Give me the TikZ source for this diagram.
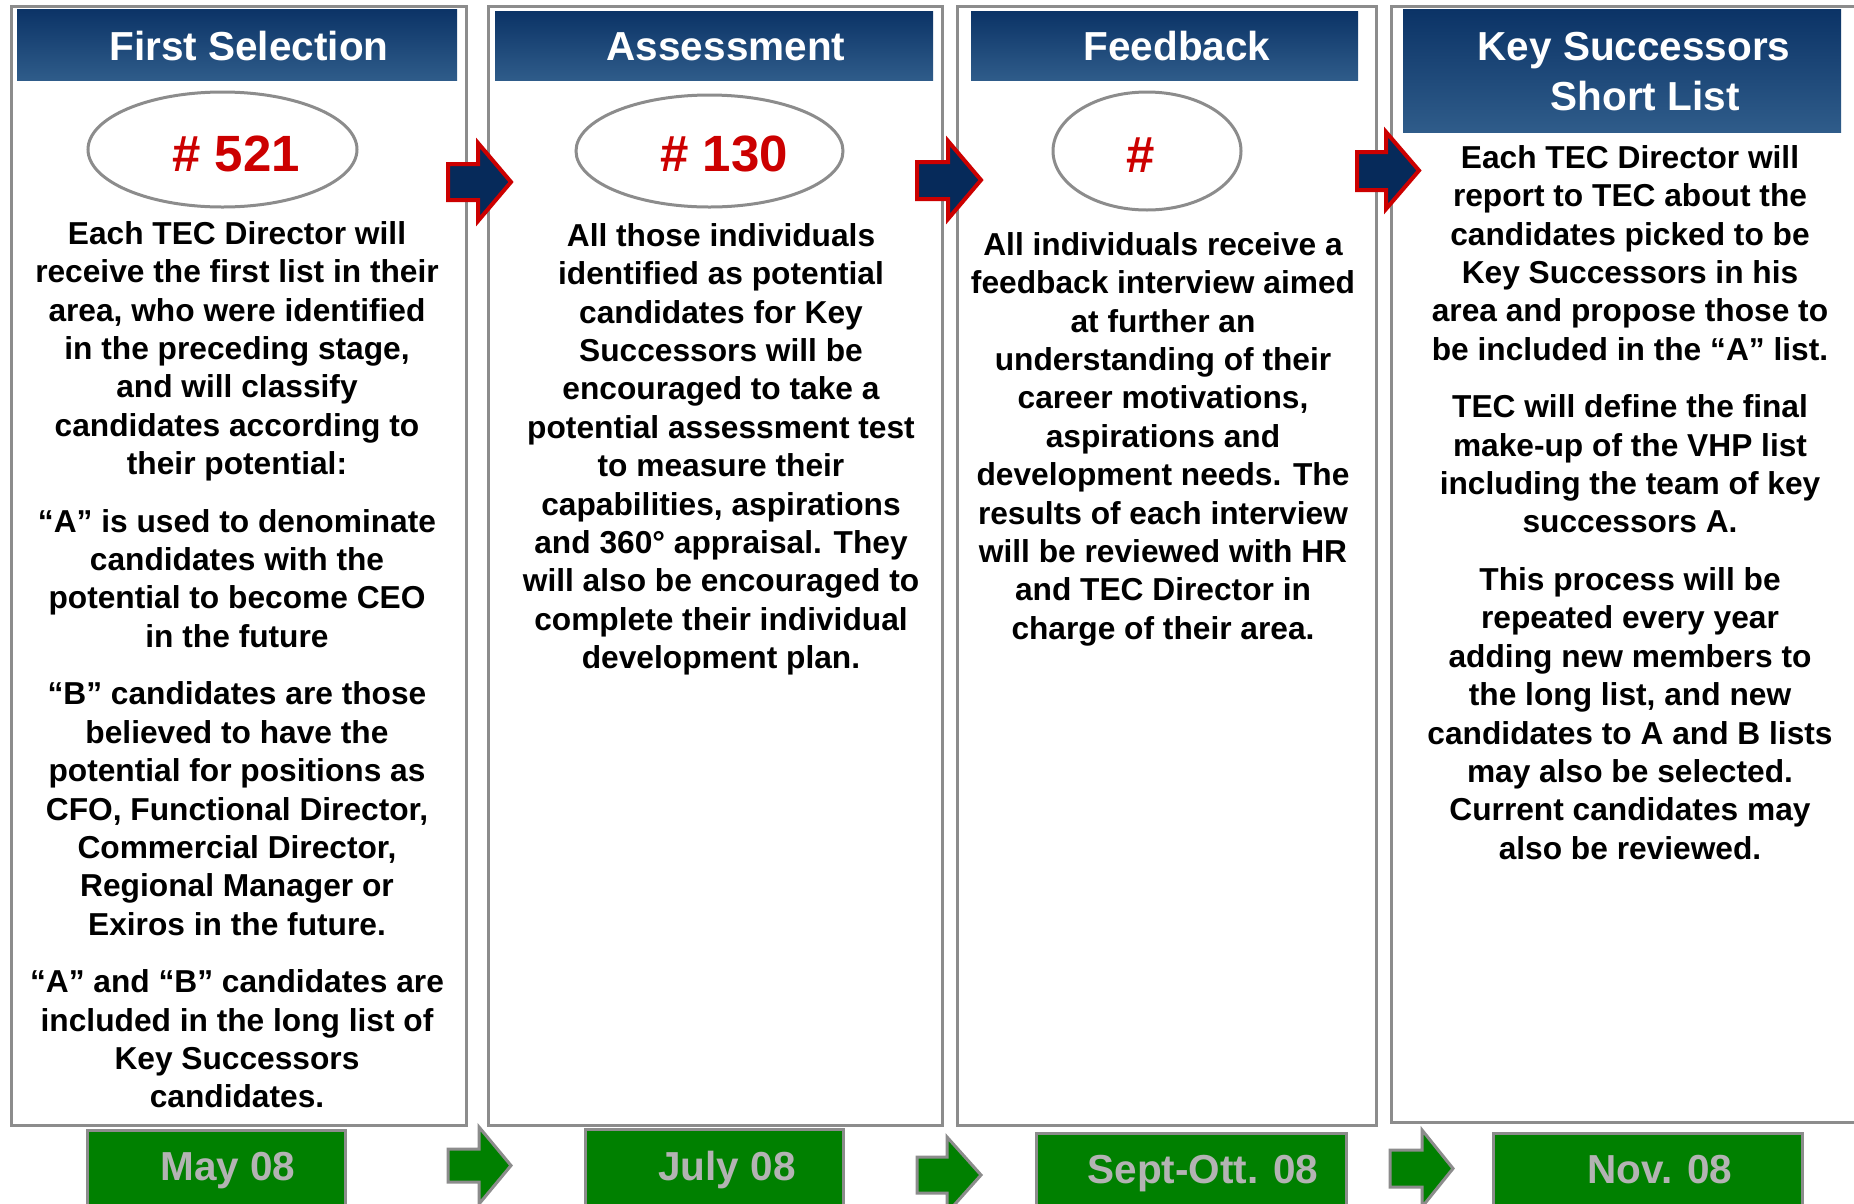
\documentclass[tikz,border=0pt]{standalone}
\usepackage{fontspec}
\setmainfont{Liberation Sans}
\usetikzlibrary{shapes.geometric}
\definecolor{navyTop}{HTML}{0B3366}
\definecolor{navyBot}{HTML}{2F5C8A}
\definecolor{arrowNavy}{HTML}{062A5A}
\definecolor{redC}{HTML}{CC0000}
\definecolor{frameGrey}{HTML}{8C8C8C}
\definecolor{greenC}{HTML}{008000}
\definecolor{dateGrey}{HTML}{B3B3B3}
\begin{document}
\begin{tikzpicture}[x=1pt,y=-1pt,
 frame/.style={draw=frameGrey,line width=3pt,fill=white,rectangle,inner sep=0pt},
 header/.style={top color=navyTop,bottom color=navyBot,draw=none,rectangle,inner sep=0pt},
 htext/.style={text=white,font=\fontsize{40.5}{50}\selectfont\bfseries,align=center,inner sep=0pt,anchor=base},
 ell/.style={ellipse,draw=frameGrey,line width=3pt,fill=white,inner sep=0pt},
 num/.style={text=redC,font=\fontsize{51}{60}\selectfont\bfseries,inner sep=0pt,anchor=base},
 body/.style={font=\fontsize{31.7}{38.4}\selectfont\bfseries,align=center,inner sep=0pt,anchor=north},
 navyarrow/.style={fill=arrowNavy,draw=redC,line width=4pt,line join=miter},
 greenarrow/.style={fill=greenC,draw=frameGrey,line width=3pt,line join=miter},
 datebox/.style={fill=greenC,draw=frameGrey,line width=3pt,rectangle,inner sep=0pt},
 dtext/.style={text=dateGrey,font=\fontsize{40.5}{48}\selectfont\bfseries,inner sep=0pt,anchor=base}
]
\useasboundingbox (0,0) rectangle (1854,1203);
\fill[white] (0,0) rectangle (1854,1203);

% frames
\node[frame,minimum width=455pt,minimum height=1119pt] (f1) at (238.5,565.5) {};
\node[frame,minimum width=454pt,minimum height=1119pt] (f2) at (715,565.5) {};
\node[frame,minimum width=419pt,minimum height=1119pt] (f3) at (1166.5,565.5) {};
\node[frame,minimum width=479pt,minimum height=1116pt] (f4) at (1630.5,564) {};

% headers
\node[header,minimum width=440pt,minimum height=71pt] (h1) at (237,44.5) {};
\node[header,minimum width=438pt,minimum height=69pt] (h2) at (714,45.5) {};
\node[header,minimum width=387pt,minimum height=69pt] (h3) at (1164.5,45.5) {};
\node[header,minimum width=438pt,minimum height=123pt] (h4) at (1622,70.5) {};
\node[htext] (ht1) at (249,60) {First Selection};
\node[htext] (ht2) at (726,60) {Assessment};
\node[htext] (ht3) at (1177,60) {Feedback};
\node[htext] (ht4) at (1634,110) {Key Successors\\\hspace*{22pt}Short List};

% ellipses
\node[ell,minimum width=269pt,minimum height=115pt] (e1) at (222.5,149.5) {};
\node[ell,minimum width=267pt,minimum height=112pt] (e2) at (709.5,151) {};
\node[ell,minimum width=188pt,minimum height=118pt] (e3) at (1147,151) {};
\node[num] (n1) at (236,171) {\# 521};
\node[num] (n2) at (724,171) {\# 130};
\node[num] (n3) at (1141,172) {\#};

% body texts
\node[body] (b1) at (237,219) {\rule{0pt}{25pt}Each TEC Director will\\
receive the first list in their\\
area, who were identified\\
in the preceding stage,\\
and will classify\\
candidates according to\\
their potential:\\[19.1pt]
“A” is used to denominate\\
candidates with the\\
potential to become CEO\\
in the future\\[19.1pt]
“B” candidates are those\\
believed to have the\\
potential for positions as\\
CFO, Functional Director,\\
Commercial Director,\\
Regional Manager or\\
Exiros in the future.\\[19.1pt]
“A” and “B” candidates are\\
included in the long list of\\
Key Successors\\
candidates.};

\node[body] (b2) at (721,221) {\rule{0pt}{25pt}All those individuals\\
identified as potential\\
candidates for Key\\
Successors will be\\
encouraged to take a\\
potential assessment test\\
to measure their\\
capabilities, aspirations\\
and 360° appraisal. They\\
will also be encouraged to\\
complete their individual\\
development plan.};

\node[body] (b3) at (1163,230) {\rule{0pt}{25pt}All individuals receive a\\
feedback interview aimed\\
at further an\\
understanding of their\\
career motivations,\\
aspirations and\\
development needs. The\\
results of each interview\\
will be reviewed with HR\\
and TEC Director in\\
charge of their area.};

\node[body] (b4) at (1630,143) {\rule{0pt}{25pt}Each TEC Director will\\
report to TEC about the\\
candidates picked to be\\
Key Successors in his\\
area and propose those to\\
be included in the “A” list.\\[19.1pt]
TEC will define the final\\
make-up of the VHP list\\
including the team of key\\
successors A.\\[19.1pt]
This process will be\\
repeated every year\\
adding new members to\\
the long list, and new\\
candidates to A and B lists\\
may also be selected.\\
Current candidates may\\
also be reviewed.};

% navy arrows
\draw[navyarrow] (448,164) -- (478,164) -- (478,143) -- (511,182) -- (478,221) -- (478,200) -- (448,200) -- cycle;
\draw[navyarrow] (917,162) -- (948,162) -- (948,141) -- (981,180) -- (948,219) -- (948,199) -- (917,199) -- cycle;
\draw[navyarrow] (1357,152) -- (1386,152) -- (1386,132) -- (1419,170.5) -- (1386,209) -- (1386,190) -- (1357,190) -- cycle;

% date boxes
\node[datebox,minimum width=258pt,minimum height=80pt] (d1) at (216,1170) {};
\node[datebox,minimum width=258pt,minimum height=81pt] (d2) at (714,1169.5) {};
\node[datebox,minimum width=310pt,minimum height=77pt] (d3) at (1191,1171.5) {};
\node[datebox,minimum width=309pt,minimum height=77pt] (d4) at (1647.5,1171.5) {};
\node[dtext] (dt1) at (228,1180) {May 08};
\node[dtext] (dt2) at (727,1180) {July 08};
\node[dtext] (dt3) at (1203,1183) {Sept-Ott. 08};
\node[dtext] (dt4) at (1660,1183) {Nov. 08};

% green arrows
\draw[greenarrow] (448,1149) -- (479,1149) -- (479,1127) -- (511,1165.5) -- (479,1204) -- (479,1182) -- (448,1182) -- cycle;
\draw[greenarrow] (917,1157) -- (947,1157) -- (947,1137) -- (981,1175) -- (947,1213) -- (947,1193) -- (917,1193) -- cycle;
\draw[greenarrow] (1390,1150) -- (1422,1150) -- (1422,1130) -- (1453,1168.5) -- (1422,1207) -- (1422,1187) -- (1390,1187) -- cycle;
\end{tikzpicture}
\end{document}
